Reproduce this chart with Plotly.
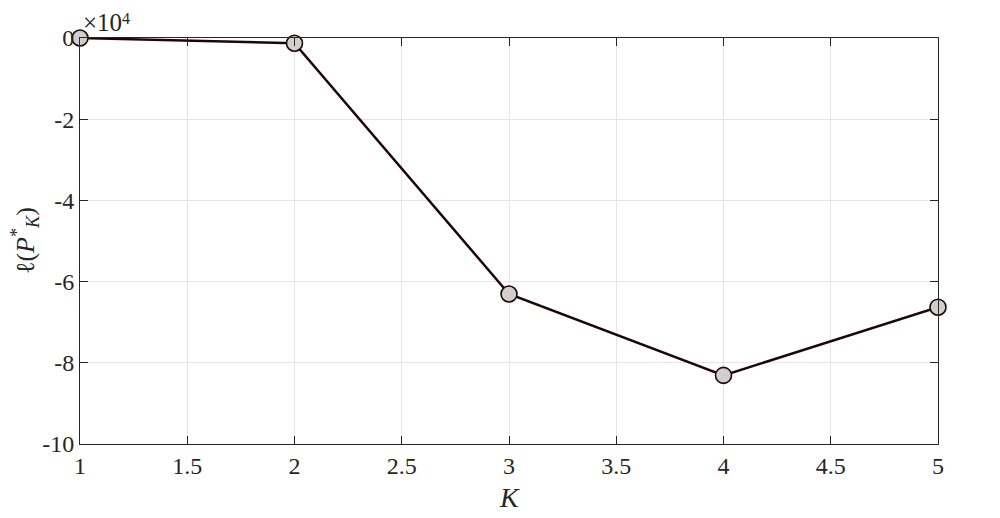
import plotly.graph_objects as go

K = [1, 2, 3, 4, 5]
loglik = [0.0, -0.13, -6.305, -8.31, -6.63]  # in units of 1e4

x_ticks = [1, 1.5, 2, 2.5, 3, 3.5, 4, 4.5, 5]
x_ticktext = ["1", "1.5", "2", "2.5", "3", "3.5", "4", "4.5", "5"]
y_ticks = [0, -2, -4, -6, -8, -10]
y_ticktext = ["0", "-2", "-4", "-6", "-8", "-10"]

FONT = "Liberation Serif, DejaVu Serif, serif"
AX = "#262626"
GRID = "#e5e5e5"

fig = go.Figure()
fig.add_trace(go.Scatter(
    x=K, y=loglik, mode="lines+markers",
    line=dict(color="#1f0505", width=2.5),
    marker=dict(size=16, color="#d0cece", line=dict(color="#1f0505", width=1.6)),
    cliponaxis=False, showlegend=False,
))

axis_common = dict(
    showline=True, linecolor=AX, linewidth=1, mirror="allticks",
    ticks="inside", ticklen=8, tickwidth=1, tickcolor=AX,
    showgrid=True, gridcolor=GRID, gridwidth=1, zeroline=False,
    tickfont=dict(family=FONT, size=24, color="#262626"),
    automargin=False,
)

fig.update_xaxes(range=[1, 5], tickvals=x_ticks, ticktext=x_ticktext, **axis_common)
fig.update_yaxes(range=[-10, 0], tickvals=y_ticks, ticktext=y_ticktext, **axis_common)

# axis titles
fig.add_annotation(
    x=0.5, y=0, xref="paper", yref="paper", xanchor="center", yanchor="middle",
    text="<i>K</i>", showarrow=False, yshift=-53,
    font=dict(family=FONT, size=28, color="#262626"),
)
fig.add_annotation(
    x=0, y=0.5, xref="paper", yref="paper", xanchor="center", yanchor="middle",
    text="ℓ(<i>P</i><sup>*</sup><sub><i>K</i></sub>)", showarrow=False, xshift=-55,
    textangle=-90, font=dict(family=FONT, size=26, color="#262626"),
)

# exponent label
fig.add_annotation(
    x=0, y=1, xref="paper", yref="paper", xanchor="left", yanchor="bottom",
    text="×10", showarrow=False, yshift=0, xshift=1,
    font=dict(family=FONT, size=25, color="#262626"),
)
fig.add_annotation(
    x=0, y=1, xref="paper", yref="paper", xanchor="left", yanchor="bottom",
    text="4", showarrow=False, yshift=9, xshift=40,
    font=dict(family=FONT, size=16, color="#262626"),
)

fig.update_layout(
    width=1000, height=518,
    margin=dict(l=72, r=70, t=30, b=82),
    plot_bgcolor="white", paper_bgcolor="white",
)

fig.write_html("out.html")
